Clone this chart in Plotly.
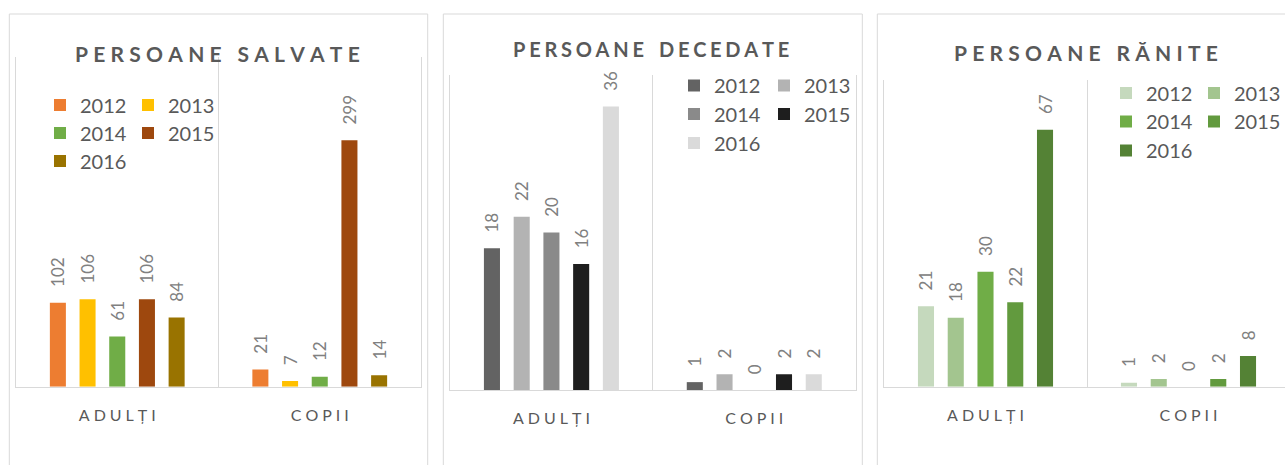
import plotly.graph_objects as go

W, H = 1285, 465

years = ["2012", "2013", "2014", "2015", "2016"]
categories = ["ADULȚI", "COPII"]

salvate_adulti = [102, 106, 61, 106, 84]
salvate_copii = [21, 7, 12, 299, 14]
decedate_adulti = [18, 22, 20, 16, 36]
decedate_copii = [1, 2, 0, 2, 2]
ranite_adulti = [21, 18, 30, 22, 67]
ranite_copii = [1, 2, 0, 2, 8]

titles = ["PERSOANE SALVATE", "PERSOANE DECEDATE", "PERSOANE RĂNITE"]

colors_salvate = ["#ED7D31", "#FFC000", "#70AD47", "#9E480E", "#997300"]
colors_decedate = ["#636363", "#B3B3B3", "#8A8A8A", "#1E1E1E", "#DADADA"]
colors_ranite = ["#C5D9BD", "#A3C58F", "#70AD47", "#629A3E", "#548235"]

FONT = "Lato"
TXT = "#595959"
LBL = "#808080"
GRID = "#D9D9D9"


def spaced(s, gap="\u2009\u2009", wordgap="\u2003"):
    words = s.split(" ")
    return wordgap.join(gap.join(list(w)) for w in words)


def px_x(x):
    return x / W


def px_y(y):
    return 1 - y / H


panels = [
    dict(adulti=salvate_adulti, copii=salvate_copii, colors=colors_salvate,
         x0=16, x1=421, y0=57, y1=386.7, ymax=400, xr=1.5, mirror=True,
         box=(9.3, 427.7), title_xy=(217.5, 53), title_size=21, title_gap="\u2009\u2009",
         leg_x=40, leg_rows=(105, 133, 161), col2=88),
    dict(adulti=decedate_adulti, copii=decedate_copii, colors=colors_decedate,
         x0=450, x1=855.7, y0=75, y1=390, ymax=40, xr=1.5, mirror=True,
         box=(443.3, 862.3), title_xy=(651, 49), title_size=20, title_gap="\u2009\u200a",
         leg_x=674, leg_rows=(85.5, 114, 143), col2=90),
    dict(adulti=ranite_adulti, copii=ranite_copii, colors=colors_ranite,
         x0=884, x1=W, y0=80, y1=386.7, ymax=80, xr=1.5 - 5 / 203, mirror=False,
         box=(877.3, W + 20), title_xy=(1086, 52.5), title_size=21, title_gap="\u2009\u2009",
         leg_x=1106, leg_rows=(93, 121.5, 150.5), col2=88),
]

fig = go.Figure()
layout = dict(
    width=W, height=H,
    margin=dict(l=0, r=0, t=0, b=0),
    paper_bgcolor="white", plot_bgcolor="white",
    barmode="group", bargap=0.267, bargroupgap=0.46,
    font=dict(family=FONT, color=TXT),
    showlegend=True,
    shapes=[], annotations=[],
)

for p, P in enumerate(panels):
    sfx = "" if p == 0 else str(p + 1)
    xa, ya = "x" + sfx, "y" + sfx
    for i, yr in enumerate(years):
        leg_idx = p * 3 + i // 2 + 1
        leg_name = "legend" if leg_idx == 1 else "legend%d" % leg_idx
        fig.add_trace(go.Bar(
            x=categories, y=[P["adulti"][i], P["copii"][i]],
            name=yr, marker=dict(color=P["colors"][i], line=dict(width=0)),
            xaxis=xa, yaxis=ya, legend=leg_name,
            texttemplate="\u2002\u2009\u2009%{y}", textposition="outside", textangle=-90,
            textfont=dict(family=FONT, size=17, color=LBL),
            constraintext="none", cliponaxis=False,
            hoverinfo="x+y+name",
        ))
        if i % 2 == 0:
            row = i // 2
            layout[leg_name] = dict(
                x=px_x(P["leg_x"]), y=px_y(P["leg_rows"][row]),
                xanchor="left", yanchor="middle",
                orientation="h", entrywidth=P["col2"] - 45, entrywidthmode="pixels",
                font=dict(family=FONT, size=20, color=TXT),
                bgcolor="rgba(0,0,0,0)", borderwidth=0,
                traceorder="normal", itemclick=False, itemdoubleclick=False,
            )

    xkey = "xaxis" + sfx
    ykey = "yaxis" + sfx
    layout[xkey] = dict(
        domain=[px_x(P["x0"]), px_x(P["x1"]) if P["x1"] < W else 1.0],
        anchor=ya, type="category", range=[-0.5, P["xr"]],
        tickvals=categories, ticktext=[spaced(c) for c in categories],
        tickson="boundaries", ticks="", showgrid=True, gridcolor=GRID, gridwidth=1,
        showline=True, linecolor=GRID, linewidth=1, zeroline=False,
        tickfont=dict(family=FONT, size=16, color=TXT), ticklabelstandoff=14,
        fixedrange=True,
    )
    layout[ykey] = dict(
        domain=[px_y(P["y1"]), px_y(P["y0"])], anchor=xa,
        range=[0, P["ymax"]], showgrid=False, zeroline=False,
        showticklabels=False, ticks="",
        showline=True, linecolor=GRID, linewidth=1, mirror=P["mirror"],
        fixedrange=True,
    )
    bx0, bx1 = P["box"]
    layout["shapes"].append(dict(
        type="rect", xref="paper", yref="paper",
        x0=px_x(bx0), x1=px_x(bx1), y0=-0.05, y1=px_y(14),
        line=dict(color=GRID, width=1), fillcolor="rgba(0,0,0,0)", layer="below",
    ))
    tx, ty = P["title_xy"]
    layout["annotations"].append(dict(
        text="<b>" + spaced(titles[p], gap=P["title_gap"]) + "</b>", xref="paper", yref="paper",
        x=px_x(tx), y=px_y(ty), xanchor="center", yanchor="middle",
        showarrow=False, font=dict(family=FONT, size=P["title_size"], color=TXT),
    ))

fig.update_layout(**layout)
fig.write_html(
    "out.html",
    config={"displayModeBar": False},
    post_script="document.body.style.margin='0';document.body.style.overflow='hidden';",
)
